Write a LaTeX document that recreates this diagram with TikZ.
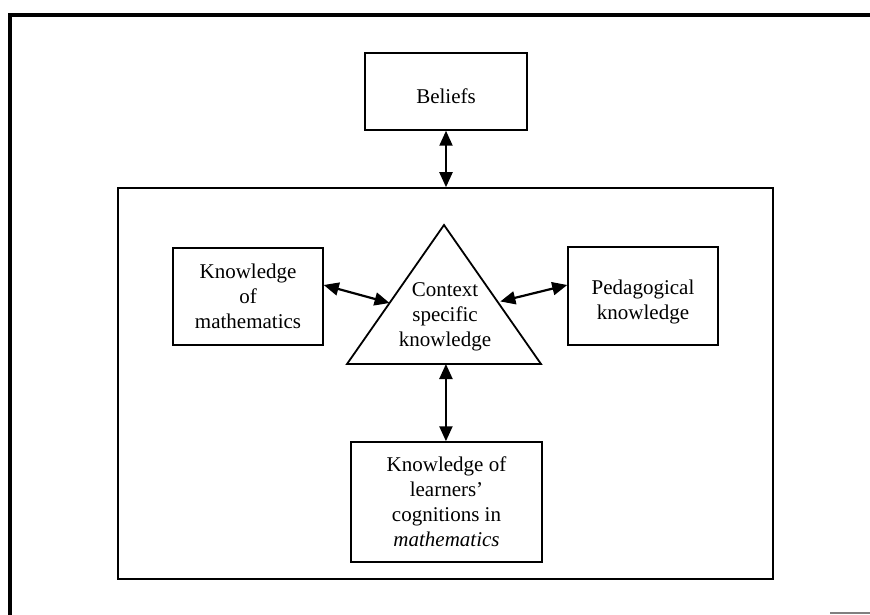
\documentclass[tikz,border=0pt]{standalone}
\usepackage{fontspec}
\setmainfont{Liberation Serif}
\usetikzlibrary{arrows.meta,calc}
\begin{document}
\begin{tikzpicture}[x=1pt,y=-1pt,
  txt/.style={align=center,inner sep=0pt,font=\fontsize{21}{25}\selectfont},
  box/.style={txt,draw,line width=1.5pt},
  link/.style={line width=2.2pt,{Triangle[length=15pt,width=13pt]}-{Triangle[length=15pt,width=13pt]}}]
  \useasboundingbox (0,0) rectangle (870,615);
  % heavy outer border (open at right and bottom)
  \draw[line width=4.5pt] (10,615) -- (10,15) -- (870,15);
  \draw[line width=1.2pt,gray] (830,613) -- (870,613);
  % inner frame
  \node[draw,line width=1.6pt,minimum width=655pt,minimum height=391pt] (inner) at (445.5,383.5) {};
  % boxes
  \node[box,minimum width=162pt,minimum height=77pt] (beliefs) at (446,91.5) {};
  \node[txt] (beliefstxt) at (446,96.5) {Beliefs};
  \node[box,minimum width=150pt,minimum height=97pt] (kmath) at (248,296.5) {Knowledge\\of\\mathematics};
  \node[box,minimum width=150pt,minimum height=98pt] (ped) at (643,296) {};
  \node[txt] (pedtxt) at (643,302) {Pedagogical\\knowledge};
  \node[box,minimum width=191pt,minimum height=120pt] (learn) at (446.5,502) {Knowledge of\\learners’\\cognitions in\\\textit{mathematics}};
  % central triangle
  \coordinate (apex) at (444,225);
  \coordinate (bl) at (347,364);
  \coordinate (br) at (541,364);
  \draw[line width=1.8pt,line join=miter] (apex) -- (bl) -- (br) -- cycle;
  \node[txt] (ctx) at (445,317) {Context\\specific\\knowledge};
  \coordinate (tl) at ($(apex)!0.561!(bl)$);
  \coordinate (tr) at ($(apex)!0.55!(br)+(3,0)$);
  \coordinate (tb) at ($(bl)!0.51!(br)$);
  % connectors
  \draw[link] (beliefs.south) -- (beliefs.south |- inner.north);
  \draw[link] ([yshift=11.5pt]kmath.east) -- (tl);
  \draw[link] (tr) -- ([yshift=11pt]ped.west);
  \draw[link] (tb) -- (tb |- learn.north);
\end{tikzpicture}
\end{document}
